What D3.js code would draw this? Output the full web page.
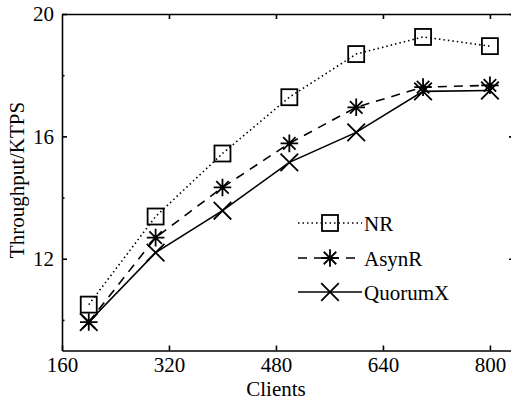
<!DOCTYPE html>
<html>
<head>
<meta charset="utf-8">
<script src="https://cdn.jsdelivr.net/npm/d3@7"></script>
<style>
    body { margin: 0; background: #fff; }
</style>
</head>
<body>
<div id="chart"></div>
<script>
// Data
const clients = [200, 300, 400, 500, 600, 700, 800];
const nrValues = [10.5, 13.38, 15.44, 17.28, 18.69, 19.25, 18.95];
const asynrValues = [9.93, 12.69, 14.33, 15.77, 16.95, 17.61, 17.67];
const quorumxValues = [9.93, 12.2, 13.57, 15.15, 16.13, 17.47, 17.5];
const seriesNames = ["NR", "AsynR", "QuorumX"];
const xTicks = [160, 320, 480, 640, 800];
const yTicks = [12, 16, 20];
const yMinorTicks = [10, 14, 18];

const width = 511, height = 401;
const margin = { left: 62, top: 14, right: -3, bottom: 50 };
const fontFamily = "'Liberation Serif', 'Times New Roman', serif";

const svg = d3.select("#chart").append("svg")
    .attr("width", width)
    .attr("height", height)
    .attr("font-family", fontFamily);

const x = d3.scaleLinear()
    .domain([160, 836])
    .range([margin.left, width - margin.right]);

const y = d3.scaleLinear()
    .domain([9, 20])
    .range([height - margin.bottom - 0.5, margin.top]);

// Axes: ticks point inwards
function styleAxis(g) {
    g.attr("font-family", fontFamily);
    g.selectAll("path.domain").attr("stroke", "#000").attr("stroke-width", 1.6);
    g.selectAll(".tick line").attr("stroke", "#000").attr("stroke-width", 1.6);
    g.selectAll(".tick text").attr("font-family", fontFamily).style("font-size", "21px");
}

svg.append("g")
    .attr("transform", `translate(0,${y(9)})`)
    .call(d3.axisBottom(x).tickValues(xTicks).tickSizeInner(-5).tickSizeOuter(0).tickPadding(7).tickFormat(d3.format("d")))
    .call(styleAxis)
    .call(g => g.selectAll(".tick text").attr("dy", "0.7em"));

svg.append("g")
    .attr("transform", `translate(0,${y(20)})`)
    .call(d3.axisTop(x).tickValues(xTicks.slice(1)).tickSizeInner(-5).tickSizeOuter(0).tickFormat(""))
    .call(styleAxis);

svg.append("g")
    .attr("transform", `translate(${x(160)},0)`)
    .call(d3.axisLeft(y).tickValues(yTicks).tickSizeInner(-5).tickSizeOuter(0).tickPadding(8).tickFormat(d3.format("d")))
    .call(styleAxis);

svg.append("g")
    .attr("transform", `translate(${x(160)},0)`)
    .call(d3.axisLeft(y).tickValues(yMinorTicks).tickSizeInner(-2.5).tickSizeOuter(0).tickFormat(""))
    .call(styleAxis)
    .call(g => g.select("path.domain").remove());

svg.append("g")
    .attr("transform", `translate(${x(836)},0)`)
    .call(d3.axisRight(y).tickValues(yTicks).tickSizeInner(-5).tickSizeOuter(0).tickFormat(""))
    .call(styleAxis);

// Axis titles
svg.append("text")
    .attr("x", x(480))
    .attr("y", 396)
    .attr("text-anchor", "middle")
    .style("font-size", "21px")
    .text("Clients");

svg.append("text")
    .attr("transform", `translate(24,180) rotate(-90)`)
    .attr("text-anchor", "middle")
    .style("font-size", "21px")
    .text("Throughput/KTPS");

// Series
const series = [
    { name: seriesNames[0], values: nrValues, dash: "1.5,3", marker: "square" },
    { name: seriesNames[1], values: asynrValues, dash: "9,7", marker: "asterisk" },
    { name: seriesNames[2], values: quorumxValues, dash: null, marker: "cross" }
];

const line = d3.line()
    .x((d, i) => x(clients[i]))
    .y(d => y(d));

function drawMarker(g, type, cx, cy) {
    const r = 8;
    if (type === "square") {
        g.append("rect")
            .attr("x", cx - r).attr("y", cy - r)
            .attr("width", 2 * r).attr("height", 2 * r)
            .attr("fill", "none").attr("stroke", "#000").attr("stroke-width", 1.8);
    } else if (type === "asterisk") {
        const a = r * 1.1, d = r * 0.78;
        const p = d3.path();
        p.moveTo(cx - a, cy); p.lineTo(cx + a, cy);
        p.moveTo(cx, cy - a); p.lineTo(cx, cy + a);
        p.moveTo(cx - d, cy - d); p.lineTo(cx + d, cy + d);
        p.moveTo(cx - d, cy + d); p.lineTo(cx + d, cy - d);
        g.append("path").attr("d", p.toString())
            .attr("fill", "none").attr("stroke", "#000").attr("stroke-width", 1.8);
    } else {
        const d = r * 1.1;
        const p = d3.path();
        p.moveTo(cx - d, cy - d); p.lineTo(cx + d, cy + d);
        p.moveTo(cx - d, cy + d); p.lineTo(cx + d, cy - d);
        g.append("path").attr("d", p.toString())
            .attr("fill", "none").attr("stroke", "#000").attr("stroke-width", 1.8);
    }
}

series.forEach(s => {
    svg.append("path")
        .datum(s.values)
        .attr("d", line)
        .attr("fill", "none")
        .attr("stroke", "#000")
        .attr("stroke-width", 1.6)
        .attr("stroke-dasharray", s.dash);
    const g = svg.append("g");
    s.values.forEach((v, i) => drawMarker(g, s.marker, x(clients[i]), y(v)));
});

// Legend
const legendY = [223, 258, 292];
series.forEach((s, i) => {
    const g = svg.append("g");
    g.append("line")
        .attr("x1", 298).attr("x2", 362)
        .attr("y1", legendY[i]).attr("y2", legendY[i])
        .attr("stroke", "#000")
        .attr("stroke-width", 1.6)
        .attr("stroke-dasharray", s.dash);
    drawMarker(g, s.marker, 330, legendY[i]);
    g.append("text")
        .attr("x", 364)
        .attr("y", legendY[i])
        .attr("dy", "0.38em")
        .style("font-size", "21px")
        .text(s.name);
});
</script>
</body>
</html>
